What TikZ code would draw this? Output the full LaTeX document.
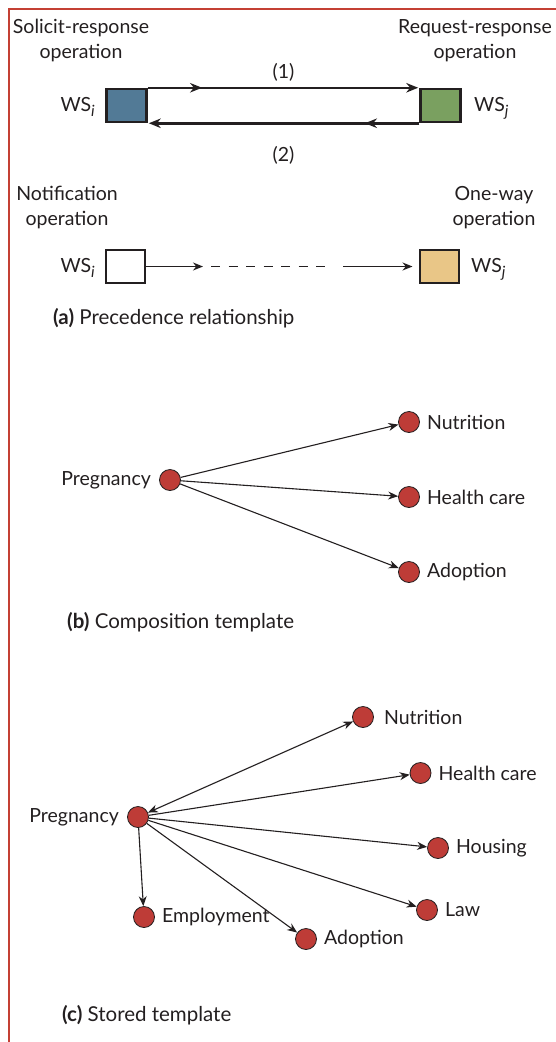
\documentclass[tikz,border=0pt]{standalone}
\usepackage{fontspec}
\setmainfont{Lato}
\usetikzlibrary{arrows.meta,decorations.markings}

\definecolor{framered}{RGB}{196,64,52}
\definecolor{nodered}{RGB}{190,60,55}
\definecolor{wsblue}{RGB}{82,122,150}
\definecolor{wsgreen}{RGB}{122,160,96}
\definecolor{wstan}{RGB}{233,198,135}
\definecolor{ink}{RGB}{35,31,32}

\newcommand{\wsname}[1]{WS\raisebox{-5.5pt}{\fontsize{15.5}{15.5}\selectfont\itshape #1}}

\begin{document}
\begin{tikzpicture}[x=1pt,y=-1pt,
  every node/.style={font=\fontsize{19.5}{25}\selectfont, text=ink},
  lbl/.style={align=center, inner sep=0pt},
  caption/.style={anchor=west, inner sep=0pt, font=\fontsize{20.5}{25}\selectfont},
  wslbl/.style={inner sep=0pt},
  wsbox/.style={draw=ink, line width=2.5pt, minimum width=40pt, minimum height=33pt, inner sep=0pt},
  nbox/.style={draw=ink, line width=2pt, minimum width=39pt, minimum height=33pt, inner sep=0pt},
  dot/.style={circle, fill=nodered, draw=ink, line width=0.8pt, minimum size=21pt, inner sep=0pt},
  rlab/.style={label={[inner sep=0pt, label distance=7pt]right:#1}},
  llab/.style={label={[inner sep=0pt, label distance=8pt]left:#1}},
  tip/.style={-{Stealth[length=10pt,width=8pt]}},
  arr/.style={draw=ink, line width=1.1pt, -{Stealth[length=10pt,width=8pt]}},
  darr/.style={draw=ink, line width=1.1pt, {Stealth[length=10pt,width=8pt]}-{Stealth[length=10pt,width=8pt]}},
  thickline/.style={draw=ink, line width=2.5pt},
  midarrow/.style={postaction={decorate}, decoration={markings,
     mark=at position #1 with {\arrow{Stealth[length=12pt,width=9.5pt]}}}},
  flow/.style={draw=ink, line width=1.2pt},
]
\useasboundingbox (0,0) rectangle (555,1042);

% frame
\draw[framered, line width=2.5pt] (9,1042) -- (9,9) -- (556,9);

% ---------- (a) ----------
\node[lbl] (srlab) at (81,40.5) {Solicit-response\\operation};
\node[lbl] (rrlab) at (475,40.5) {Request-response\\operation};

\node[wsbox, fill=wsblue] (wsi) at (126.5,105.5) {};
\node[wsbox, fill=wsgreen] (wsj) at (440.5,105.5) {};

\draw[thickline, midarrow=0.2, -{Stealth[length=12pt,width=9.5pt]}, shorten >=1pt]
  (wsi.north east) -- node[above=5pt, inner sep=0pt] (one) {(1)} (wsj.north west);
\draw[thickline, midarrow=0.2, -{Stealth[length=12pt,width=9.5pt]}, shorten >=1pt]
  (wsj.south west) -- node[below=22pt, inner sep=0pt] (two) {(2)} (wsi.south east);

\node[wslbl, anchor=base east] (wsilab) at (95,111) {\wsname{i}};
\node[wslbl, anchor=base west] (wsjlab) at (474,111) {\wsname{j}};

\node[lbl] (nolab) at (67,207.5) {Notification\\operation};
\node[lbl] (owlab) at (494,207.5) {One-way\\operation};

\node[nbox, fill=white] (nb) at (125.5,266.5) {};
\node[nbox, fill=wstan] (ob) at (439,266.5) {};

\coordinate (c1) at (203,266.5);
\coordinate (c2) at (211,266.5);
\coordinate (c3) at (326,266.5);
\coordinate (c4) at (343,266.5);
\draw[flow, tip] (nb.east) -- (c1);
\draw[flow, dash pattern=on 9pt off 8.5pt] (c2) -- (c3);
\draw[flow, tip, shorten >=6pt] (c4) -- (ob.west);

\node[wslbl, anchor=base east] (wsilab2) at (95,272) {\wsname{i}};
\node[wslbl, anchor=base west] (wsjlab2) at (471,272) {\wsname{j}};

\node[caption] (capa) at (53,318) {\textbf{(a)} Precedence relationship};

% ---------- (b) ----------
\node[dot, llab=Pregnancy] (bp) at (170,480) {};
\node[dot, rlab=Nutrition] (bn) at (409,422) {};
\node[dot, rlab=Health care] (bh) at (409,497) {};
\node[dot, rlab=Adoption] (ba) at (409,572) {};
\draw[arr] (bp) -- (bn);
\draw[arr] (bp) -- (bh);
\draw[arr] (bp) -- (ba);

\node[caption] (capb) at (67,622) {\textbf{(b)} Composition template};

% ---------- (c) ----------
\node[dot, llab=Pregnancy] (cp) at (138,817) {};
\node[dot, label={[inner sep=0pt, label distance=10pt]right:Nutrition}] (cn) at (363,717) {};
\node[dot, rlab=Health care] (ch) at (420.5,773) {};
\node[dot, rlab=Housing] (chs) at (438,848) {};
\node[dot, rlab=Law] (cl) at (427,910) {};
\node[dot, rlab=Employment] (ce) at (144,917) {};
\node[dot, rlab=Adoption] (ca) at (306,939) {};
\draw[darr] (cp) -- (cn);
\draw[arr] (cp) -- (ch);
\draw[arr] (cp) -- (chs);
\draw[arr] (cp) -- (cl);
\draw[arr] (cp) -- (ce);
\draw[arr] (cp) -- (ca);

\node[caption] (capc) at (62,1015) {\textbf{(c)} Stored template};
\end{tikzpicture}
\end{document}
